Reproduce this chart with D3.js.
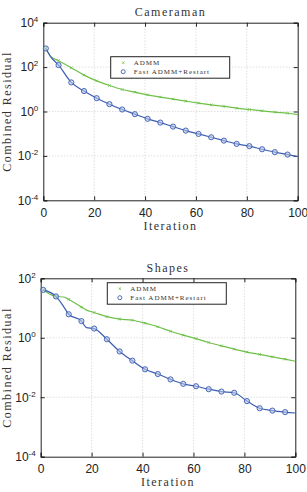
<!DOCTYPE html>
<html>
<head>
  <meta charset="utf-8">
  <title>Combined Residual</title>
  <script src="https://d3js.org/d3.v7.min.js"></script>
  <style>
    body { margin: 0; background: #fff; }
    .tick text { font-family: "Liberation Sans", Arial, sans-serif; font-size: 12px; fill: #222; }
    .ttl { font-family: "Liberation Serif", "DejaVu Serif", serif; font-size: 12px; letter-spacing: 1.5px; fill: #333; }
    .leg { font-family: "Liberation Serif", "DejaVu Serif", serif; font-size: 7px; letter-spacing: 1px; fill: #333; }
  </style>
</head>
<body>
  <script>

    // iterations at which values were read (markers every 5 iterations)
    var camIter = [1, 3, 6, 11, 16, 21, 26, 31, 36, 41, 46, 51, 56, 61, 66, 71, 76, 81, 86, 91, 96, 100];
    // log10 of combined residual
    var camAdmm = [2.84, 2.47, 2.29, 1.97, 1.64, 1.38, 1.17, 0.99, 0.87, 0.75, 0.65, 0.56, 0.47, 0.38, 0.30, 0.23, 0.15, 0.09, 0.03, -0.03, -0.08, -0.14];
    var camFast = [2.84, 2.45, 2.09, 1.31, 0.92, 0.60, 0.33, 0.09, -0.12, -0.33, -0.50, -0.68, -0.86, -1.01, -1.16, -1.31, -1.46, -1.56, -1.70, -1.83, -1.94, -2.03];

    var shpIter = [1, 6, 9, 11, 16, 18, 21, 26, 31, 36, 41, 46, 51, 56, 61, 66, 71, 76, 81, 86, 91, 96, 100];
    var shpAdmm = [1.61, 1.39, 1.37, 1.29, 1.03, 0.93, 0.85, 0.71, 0.63, 0.59, 0.49, 0.37, 0.22, 0.09, -0.03, -0.16, -0.27, -0.38, -0.48, -0.56, -0.64, -0.72, -0.79];
    var shpFast = [1.61, 1.39, 1.05, 0.79, 0.56, 0.34, 0.31, -0.05, -0.46, -0.77, -1.06, -1.22, -1.40, -1.55, -1.63, -1.73, -1.81, -1.85, -2.13, -2.37, -2.45, -2.50, -2.53];

    var xTicks = [0, 20, 40, 60, 80, 100];
    var seriesNames = ["ADMM", "Fast ADMM+Restart"];
    var green = "#6fc04a", blue = "#3b5db3";

    var svg = d3.select("body").append("svg").attr("width", 307).attr("height", 492);

    function drawPanel(opt) {
      var x = d3.scaleLinear().domain([0, 100]).range([opt.left, opt.right]);
      var y = d3.scaleLog().domain(opt.ydom).range([opt.bottom, opt.top]);
      var g = svg.append("g");

      // grid
      g.selectAll(".gx").data(xTicks.slice(1, -1)).join("line")
        .attr("x1", d => x(d)).attr("x2", d => x(d))
        .attr("y1", opt.top).attr("y2", opt.bottom)
        .attr("stroke", "#bbb").attr("stroke-width", 0.7).attr("stroke-dasharray", "1,2");
      g.selectAll(".gy").data(opt.yTicks.slice(1, -1)).join("line")
        .attr("x1", opt.left).attr("x2", opt.right)
        .attr("y1", d => y(d)).attr("y2", d => y(d))
        .attr("stroke", "#bbb").attr("stroke-width", 0.7).attr("stroke-dasharray", "1,2");

      // axes (ticks inward)
      g.append("g").attr("transform", "translate(0," + opt.bottom + ")")
        .call(d3.axisBottom(x).tickValues(xTicks).tickSize(-4).tickPadding(8).tickFormat(d3.format("d")));
      g.append("g").attr("transform", "translate(0," + opt.top + ")")
        .call(d3.axisTop(x).tickValues(xTicks).tickSize(-4).tickFormat(""));
      var ya = g.append("g").attr("transform", "translate(" + opt.left + ",0)")
        .call(d3.axisLeft(y).tickValues(opt.yTicks).tickSize(-4).tickPadding(5).tickFormat(""));
      g.append("g").attr("transform", "translate(" + opt.right + ",0)")
        .call(d3.axisRight(y).tickValues(opt.yTicks).tickSize(-4).tickFormat(""));
      g.selectAll(".domain").attr("stroke", "#222").attr("stroke-width", 1);
      g.selectAll(".tick line").attr("stroke", "#222");

      ya.selectAll(".tick text").each(function(d) {
        var t = d3.select(this).text("");
        t.append("tspan").text("10");
        t.append("tspan").attr("dy", -5).attr("font-size", 8).text(Math.round(Math.log10(d)));
      });

      // lines
      var line = d3.line().curve(d3.curveMonotoneX)
        .x(d => x(d[0])).y(d => y(Math.pow(10, d[1])));
      var admm = opt.iter.map((it, i) => [it, opt.admm[i]]);
      var fast = opt.iter.map((it, i) => [it, opt.fast[i]]);
      g.append("path").datum(admm).attr("d", line).attr("fill", "none").attr("stroke", green).attr("stroke-width", 1.2);
      g.append("path").datum(fast).attr("d", line).attr("fill", "none").attr("stroke", blue).attr("stroke-width", 1.2);

      var mk = d => d[0] % 5 === 1;
      g.selectAll(".mx").data(admm.filter(mk)).join("path")
        .attr("transform", d => "translate(" + x(d[0]) + "," + y(Math.pow(10, d[1])) + ")")
        .attr("d", "M-1.3,-1.3L1.3,1.3M-1.3,1.3L1.3,-1.3")
        .attr("stroke", green).attr("stroke-width", 0.8);
      g.selectAll(".mo").data(fast.filter(mk)).join("circle")
        .attr("cx", d => x(d[0])).attr("cy", d => y(Math.pow(10, d[1])))
        .attr("r", 2.6).attr("fill", "#b9c6e6").attr("fill-opacity", 0.6)
        .attr("stroke", blue).attr("stroke-width", 0.9);

      // titles
      g.append("text").attr("class", "ttl").attr("x", (opt.left + opt.right) / 2).attr("y", opt.top - 6.5)
        .attr("text-anchor", "middle").text(opt.title);
      g.append("text").attr("class", "ttl").attr("x", (opt.left + opt.right) / 2).attr("y", opt.bottom + 29.5)
        .attr("text-anchor", "middle").text("Iteration");
      g.append("text").attr("class", "ttl")
        .attr("transform", "translate(11," + (opt.top + opt.bottom) / 2 + ") rotate(-90)")
        .attr("text-anchor", "middle").text("Combined Residual");

      // legend
      var lg = g.append("g").attr("transform", "translate(" + opt.leg[0] + "," + opt.leg[1] + ")");
      lg.append("rect").attr("width", 119).attr("height", 21.5)
        .attr("fill", "#fff").attr("stroke", "#222").attr("stroke-width", 1);
      lg.append("path").attr("transform", "translate(12.5,6)")
        .attr("d", "M-1.2,-1.2L1.2,1.2M-1.2,1.2L1.2,-1.2").attr("stroke", green).attr("stroke-width", 0.8);
      lg.append("circle").attr("cx", 12.5).attr("cy", 15).attr("r", 2)
        .attr("fill", "none").attr("stroke", blue).attr("stroke-width", 0.9);
      lg.selectAll(".lt").data(seriesNames).join("text").attr("class", "leg")
        .attr("x", 23).attr("y", (d, i) => 8.5 + i * 9).text(d => d);
    }

    drawPanel({
      title: "Cameraman", left: 43.3, right: 297.7, top: 22.7, bottom: 200.3,
      ydom: [1e-4, 1e4], yTicks: [1e-4, 1e-2, 1, 1e2, 1e4],
      iter: camIter, admm: camAdmm, fast: camFast, leg: [110.7, 56.7]
    });
    drawPanel({
      title: "Shapes", left: 40.7, right: 295.3, top: 278.3, bottom: 456.7,
      ydom: [1e-4, 1e2], yTicks: [1e-4, 1e-2, 1, 1e2],
      iter: shpIter, admm: shpAdmm, fast: shpFast, leg: [107.3, 282.7]
    });
  </script>
</body>
</html>
